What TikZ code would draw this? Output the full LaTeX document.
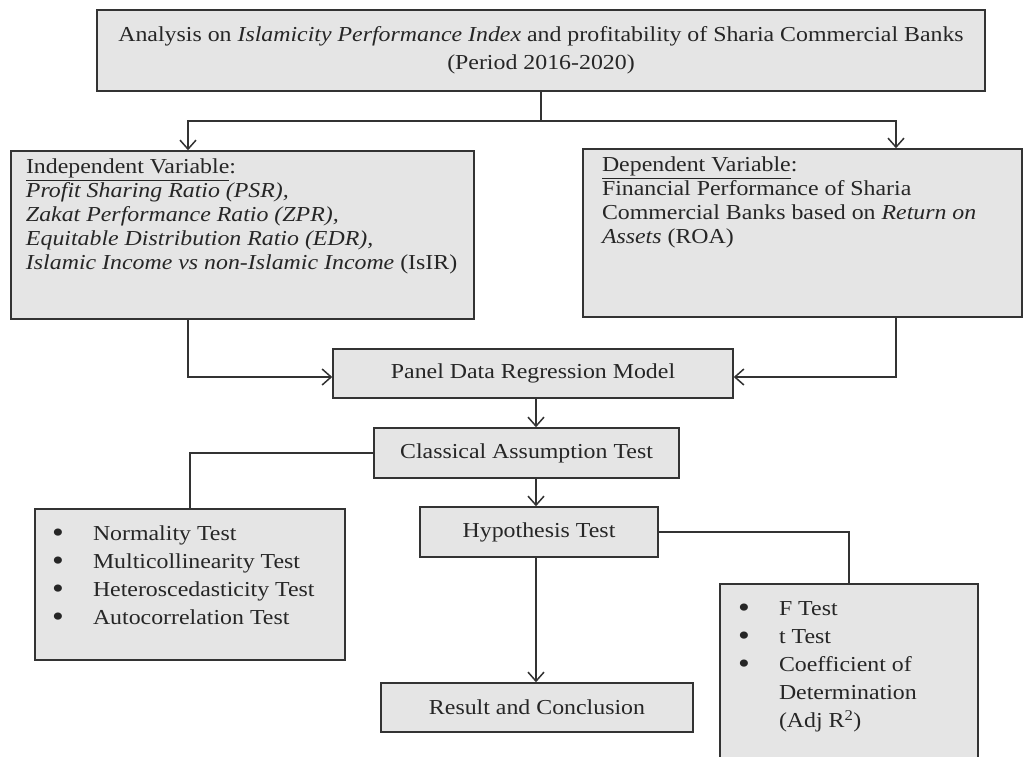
\documentclass[tikz,border=0pt]{standalone}
\usepackage{fontspec}
\setmainfont{Liberation Serif}[FakeStretch=1.12]
\usetikzlibrary{arrows.meta,calc}
\newcommand{\boxtxt}[3]{\parbox[c][#2][t]{#1}{#3}}
\newcommand{\bul}{\makebox[41pt][l]{\raisebox{-1.5pt}{\fontsize{30}{28}\selectfont•}}}
\newcommand{\nobul}{\hspace*{41pt}}
\begin{document}
\begin{tikzpicture}[x=1pt,y=-1pt,
  font=\fontsize{21.3}{26}\selectfont,
  every node/.style={text=black!85},
  box/.style={draw=black!80, fill=black!10, line width=1.5pt, inner sep=0pt, rectangle},
  conn/.style={draw=black!80, line width=1.5pt},
  arr/.style={conn, -{Straight Barb[length=9pt,width=16pt]}}
]
\clip (0,0) rectangle (1033,756);
\fill[white] (0,0) rectangle (1033,756);

% boxes
\node[box, minimum width=888pt, minimum height=81pt] (top) at (541,50.5)
  {\parbox{870pt}{\centering\fontsize{21.3}{28}\selectfont
   Analysis on \textit{Islamicity Performance Index} and profitability of Sharia Commercial Banks\\(Period 2016-2020)}};

\node[box, minimum width=463pt, minimum height=168pt] (indep) at (242.5,235)
  {\boxtxt{433pt}{156pt}{\fontsize{21.3}{24}\selectfont\raggedright\strut\underline{Independent Variable}:\\
   \textit{Profit Sharing Ratio (PSR),}\\
   \textit{Zakat Performance Ratio (ZPR),}\\
   \textit{Equitable Distribution Ratio (EDR),}\\
   \mbox{\textit{Islamic Income vs non-Islamic Income} (IsIR)}}};

\node[box, minimum width=439pt, minimum height=168pt] (dep) at (802.5,233)
  {\boxtxt{401pt}{156pt}{\fontsize{21.3}{24}\selectfont\raggedright\strut\underline{Dependent Variable}:\\
   Financial Performance of Sharia\\
   Commercial Banks based on \textit{Return on}\\
   \textit{Assets} (ROA)}};

\node[box, minimum width=400pt, minimum height=49pt] (panel) at (533,373.5) {Panel Data Regression Model};
\node[box, minimum width=305pt, minimum height=50pt] (classical) at (526.5,453) {Classical Assumption Test};
\node[box, minimum width=238pt, minimum height=50pt] (hyp) at (539,532) {Hypothesis Test};
\node[box, minimum width=312pt, minimum height=49pt] (result) at (537,707.5) {Result and Conclusion};

\node[box, minimum width=310pt, minimum height=151pt] (leftlist) at (190,584.5)
  {\boxtxt{276pt}{127pt}{\fontsize{21.3}{28}\selectfont\raggedright
   \strut\bul Normality Test\\
   \bul Multicollinearity Test\\
   \bul Heteroscedasticity Test\\
   \bul Autocorrelation Test}};

\node[box, minimum width=258pt, minimum height=216pt] (rightlist) at (849,692)
  {\boxtxt{222pt}{192pt}{\fontsize{21.3}{28}\selectfont\raggedright
   \strut\bul F Test\\
   \bul t Test\\
   \bul Coefficient of\\
   \nobul Determination\\
   \nobul (Adj R\textsuperscript{2})}};

% helper coordinates
\coordinate (lx) at (188,0);
\coordinate (rx) at (896,0);
\coordinate (ax) at (536,0);
\coordinate (ay) at (0,377);
\coordinate (split) at ($(top.south)+(0,29)$);

% connectors
\draw[conn] (top.south) -- (split);
\draw[arr] (split) -| (indep.north -| lx);
\draw[arr] (split) -| (dep.north -| rx);
\draw[arr] (indep.south -| lx) |- (panel.west |- ay);
\draw[arr] (dep.south -| rx) |- (panel.east |- ay);
\draw[arr] (panel.south -| ax) -- (classical.north -| ax);
\draw[arr] (classical.south -| ax) -- (hyp.north -| ax);
\draw[arr] (hyp.south -| ax) -- (result.north -| ax);
\draw[conn] (classical.west) -| (leftlist.north);
\draw[conn] (hyp.east) -| (rightlist.north);
\end{tikzpicture}
\end{document}
